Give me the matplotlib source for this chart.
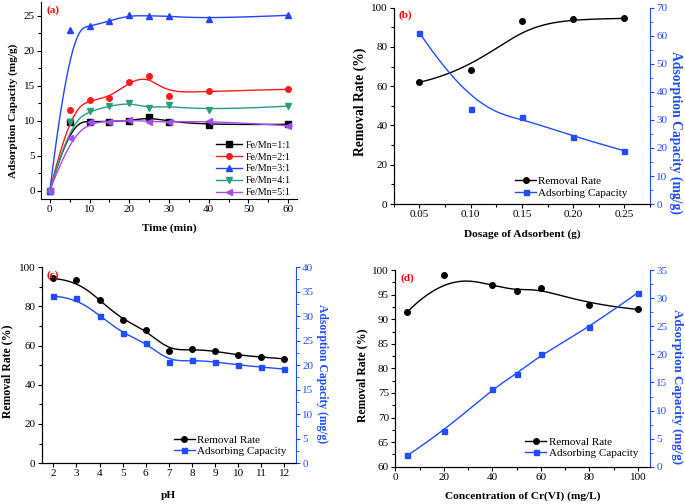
import numpy as np
from matplotlib import pyplot as plt
from matplotlib.ticker import AutoMinorLocator

plt.rcParams['font.family'] = ['Liberation Serif', 'DejaVu Serif']
plt.rcParams['font.size'] = 8

#data (a)
time = [0, 5, 10, 15, 20, 25, 30, 40, 60]
fe_mn_1 = [0, 9.8, 9.9, 9.9, 10.0, 10.5, 9.9, 9.4, 9.5]
fe_mn_2 = [0, 11.5, 13.0, 13.3, 15.6, 16.4, 13.6, 14.3, 14.5]
fe_mn_3 = [0, 23.0, 23.5, 24.3, 25.1, 25.0, 25.0, 24.6, 25.1]
fe_mn_4 = [0, 9.8, 11.4, 12.1, 12.6, 11.8, 12.2, 11.5, 12.1]
fe_mn_5 = [0, 7.5, 9.8, 9.9, 10.1, 9.9, 9.8, 10.0, 9.3]
ratio_labels = ['Fe/Mn=1:1', 'Fe/Mn=2:1', 'Fe/Mn=3:1', 'Fe/Mn=4:1', 'Fe/Mn=5:1']

#data (b)
dosage = [0.05, 0.10, 0.15, 0.20, 0.25]
removal_dose = [62, 68, 93, 94, 94.5]
capacity_dose = [61, 34, 31, 24, 19]

#data (c)
ph = [2, 3, 4, 5, 6, 7, 8, 9, 10, 11, 12]
removal_ph = [94.2, 93.2, 83.2, 73.1, 68.0, 57.3, 58.1, 57.2, 55.1, 54.1, 53.2]
capacity_ph = [34.1, 33.7, 30.1, 26.5, 24.6, 20.7, 21.0, 20.7, 20.0, 19.6, 19.2]

#data (d)
conc = [5, 20, 40, 50, 60, 80, 100]
removal_conc = [91.5, 99.0, 97.0, 95.8, 96.4, 93.0, 92.0]
capacity_conc = [2.0, 6.3, 13.9, 16.5, 20.0, 24.8, 31.0]

black = 'black'
blue = '#1f4dff'


def bspline(x, y, n=300, k=3):
    #clamped B-spline with the data points as control points (like Origin's B-spline line)
    pts = np.column_stack([x, y]).astype(float)
    m = len(pts)
    k = min(k, m - 1)
    knots = np.concatenate([np.zeros(k), np.linspace(0, 1, m - k + 1), np.ones(k)])
    t = np.linspace(0, 1, n)
    t[-1] = 1 - 1e-10
    B = np.zeros((n, len(knots) - 1))
    for i in range(len(knots) - 1):
        B[:, i] = (t >= knots[i]) & (t < knots[i + 1])
    for d in range(1, k + 1):
        Bn = np.zeros((n, len(knots) - 1 - d))
        for i in range(len(knots) - 1 - d):
            a = knots[i + d] - knots[i]
            b = knots[i + d + 1] - knots[i + 1]
            left = (t - knots[i]) / a * B[:, i] if a > 0 else 0
            right = (knots[i + d + 1] - t) / b * B[:, i + 1] if b > 0 else 0
            Bn[:, i] = left + right
        B = Bn
    curve = B @ pts
    return curve[:, 0], curve[:, 1]


def style_axis(ax):
    ax.spines['top'].set_visible(False)
    ax.spines['right'].set_visible(False)
    ax.tick_params(direction='out', length=3, width=0.8, labelsize=8, pad=1.5)
    ax.tick_params(which='minor', direction='out', length=2, width=0.8)
    ax.xaxis.set_minor_locator(AutoMinorLocator(2))
    ax.yaxis.set_minor_locator(AutoMinorLocator(2))


def panel_label(ax, s):
    ax.text(0.02, 0.985, s, transform=ax.transAxes, color='red', fontweight='bold',
            fontsize=8, va='top', ha='left')


def set_xlabel(ax, s, y, size=8.2):
    ax.set_xlabel(s, fontweight='bold', fontsize=size, va='center')
    ax.xaxis.set_label_coords(0.5, y)


def set_ylabel(ax, s, x, y, size, color=black, rot=90):
    ax.set_ylabel(s, fontweight='bold', fontsize=size, color=color, rotation=rot,
                  va='center', ha='center')
    ax.yaxis.set_label_coords(x, y)


def twin_plot(ax, x, rem, cap, cap_max):
    style_axis(ax)
    xs, ys = bspline(x, rem)
    ax.plot(xs, ys, color=black, lw=1)
    ax.plot(x, rem, 'o', color=black, ms=4)
    ax2 = ax.twinx()
    xs, ys = bspline(x, cap)
    ax2.plot(xs, ys, color=blue, lw=1)
    ax2.plot(x, cap, 's', color=blue, ms=3.6)
    ax2.set_ylim(0, cap_max)
    ax2.spines['top'].set_visible(False)
    ax2.spines['right'].set_color(blue)
    ax2.tick_params(axis='y', colors=blue, direction='out', length=3, labelsize=8, pad=1.5)
    ax2.tick_params(axis='y', which='minor', colors=blue, direction='out', length=2)
    ax2.yaxis.set_minor_locator(AutoMinorLocator(2))
    return ax2


def twin_legend(ax, anchor):
    h1, = ax.plot([], [], '-o', color=black, ms=4, lw=1)
    h2, = ax.plot([], [], '-s', color=blue, ms=3.6, lw=1)
    ax.legend([h1, h2], ['Removal Rate', 'Adsorbing Capacity'], frameon=False,
              loc='lower right', bbox_to_anchor=anchor, borderaxespad=0, fontsize=8,
              handlelength=1.9, handletextpad=0.2, labelspacing=0.15)


fig = plt.figure(figsize=(6.85, 5.04), dpi=100)

#(a)
ax = fig.add_axes([0.060, 0.605, 0.374, 0.391])
style_axis(ax)
series = [fe_mn_1, fe_mn_2, fe_mn_3, fe_mn_4, fe_mn_5]
colors = ['black', '#ff1a1a', '#2244ff', '#2a9d80', '#a64df2']
markers = ['s', 'o', '^', 'v', '<']
for ys_, c, mk, lab in zip(series, colors, markers, ratio_labels):
    xs, yc = bspline(time, ys_)
    ax.plot(xs, yc, color=c, lw=1)
    ax.plot(time, ys_, mk, color=c, ms=4)
    ax.plot([], [], '-' + mk, color=c, ms=4, lw=1, label=lab)
ax.set_xlim(-2.2, 62.3)
ax.set_ylim(-1.2, 27)
ax.set_xticks(range(0, 61, 10))
ax.set_yticks(range(0, 26, 5))
set_xlabel(ax, 'Time (min)', -0.15)
set_ylabel(ax, 'Adsorption Capacity (mg/g)', -0.11, 0.45, 8.1)
ax.legend(frameon=False, loc='lower right', bbox_to_anchor=(0.99, -0.01), borderaxespad=0,
          fontsize=7.2, handlelength=2.6, handletextpad=0.3, labelspacing=0.28)
panel_label(ax, '(a)')

#(b)
ax = fig.add_axes([0.575, 0.595, 0.374, 0.390])
ax2 = twin_plot(ax, dosage, removal_dose, capacity_dose, 70)
ax.set_xlim(0.025, 0.275)
ax.set_ylim(0, 100)
ax.set_xticks(dosage)
ax.set_xticklabels(['%.2f' % d for d in dosage])
set_xlabel(ax, 'Dosage of Adsorbent (g)', -0.152)
set_ylabel(ax, 'Removal Rate (%)', -0.133, 0.52, 9.8)
set_ylabel(ax2, 'Adsorption Capacity (mg/g)', 1.1, 0.365, 9.8, blue, 270)
twin_legend(ax, (0.93, 0.01))
panel_label(ax, '(b)')

#(c)
ax = fig.add_axes([0.061, 0.081, 0.371, 0.389])
ax2 = twin_plot(ax, ph, removal_ph, capacity_ph, 40)
ax.set_xlim(1.5, 12.5)
ax.set_ylim(0, 100)
ax.set_xticks(ph)
ax.xaxis.set_minor_locator(plt.NullLocator())
set_xlabel(ax, 'pH', -0.167)
set_ylabel(ax, 'Removal Rate (%)', -0.135, 0.467, 8.5)
set_ylabel(ax2, 'Adsorption Capacity (mg/g)', 1.102, 0.459, 8.4, blue, 270)
twin_legend(ax, (0.98, 0.013))
panel_label(ax, '(c)')

#(d)
ax = fig.add_axes([0.577, 0.074, 0.372, 0.390])
ax2 = twin_plot(ax, conc, removal_conc, capacity_conc, 35)
ax.set_xlim(0, 105)
ax.set_ylim(60, 100)
ax.set_xticks(range(0, 101, 20))
set_xlabel(ax, 'Concentration of Cr(VI) (mg/L)', -0.149)
set_ylabel(ax, 'Removal Rate (%)', -0.13, 0.465, 8.5)
set_ylabel(ax2, 'Adsorption Capacity (mg/g)', 1.106, 0.407, 9.4, blue, 270)
twin_legend(ax, (0.97, 0.02))
panel_label(ax, '(d)')

fig.savefig('out.png', dpi=100)
